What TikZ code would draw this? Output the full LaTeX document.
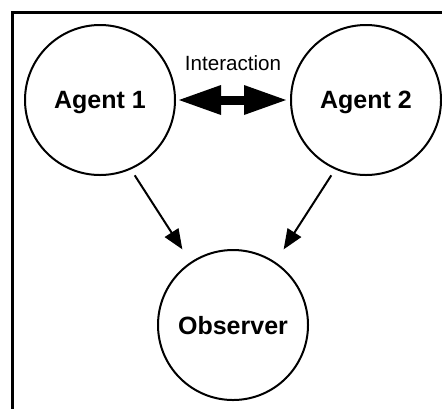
\documentclass[tikz,border=0pt]{standalone}
\usepackage{fontspec}
\setmainfont{Liberation Sans}
\usetikzlibrary{arrows.meta}

\tikzset{
  agent/.style={draw, circle, line width=1pt, minimum size=75pt, inner sep=0pt,
    font=\fontsize{12.5}{15}\selectfont\bfseries, text depth=0pt},
  link/.style={-{Triangle[length=10pt,width=8pt]}, line width=1pt},
  fatlink/.style={line width=4.5pt,
    {Triangle[length=21pt,width=15pt,line width=0pt]}-{Triangle[length=21pt,width=15pt,line width=0pt]}},
}

\begin{document}
\begin{tikzpicture}[x=0.5pt,y=-0.5pt]
  \useasboundingbox (0,0) rectangle (442,408);
  % open frame, only top and left edges show
  \draw[line width=1.5pt] (12,420) -- (12,12) -- (450,12);

  \node[agent] (agentone) at (100,100) {Agent 1};
  \node[agent] (agenttwo) at (366,100) {Agent 2};
  \node[agent] (observer) at (233,325) {Observer};

  % the two agents talk to each other
  \draw[fatlink, shorten <=1.5pt, shorten >=2pt] (agentone) -- (agenttwo)
    node[midway, yshift=18.5pt, font=\fontsize{10.3}{12}\selectfont] (interaction) {Interaction};

  % both are watched
  \draw[link, shorten <=3.5pt, shorten >=7.5pt] (agentone.-66) -- (observer.124);
  \draw[link, shorten <=3.5pt, shorten >=7.5pt] (agenttwo.-114) -- (observer.56);
\end{tikzpicture}
\end{document}
